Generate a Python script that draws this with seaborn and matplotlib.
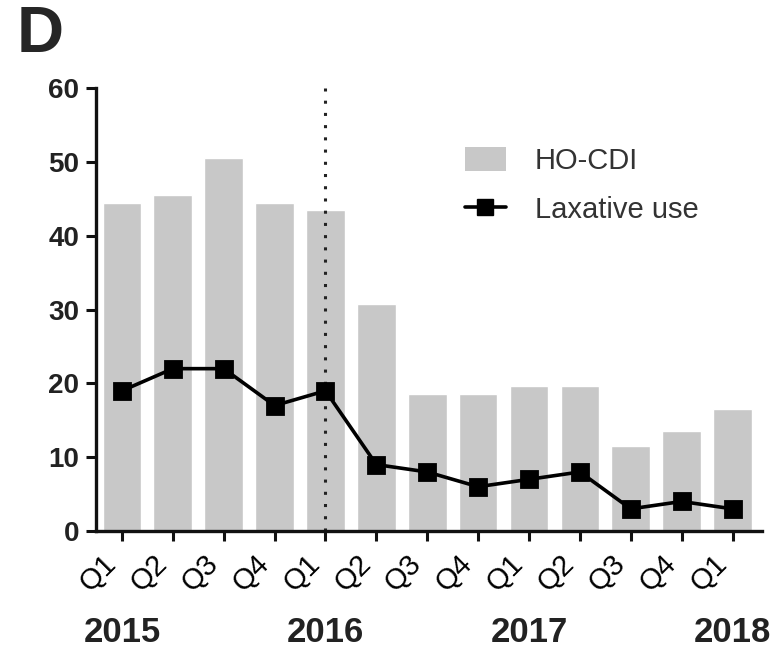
import matplotlib
matplotlib.use("Agg")
import matplotlib.pyplot as plt
from matplotlib.patches import Patch
from matplotlib.lines import Line2D
import pandas as pd
import seaborn as sns

# quarters Q1 2015 .. Q1 2018
quarters = ["Q1", "Q2", "Q3", "Q4", "Q1", "Q2", "Q3", "Q4", "Q1", "Q2", "Q3", "Q4", "Q1"]
ho_cdi = [44.4, 45.5, 50.5, 44.4, 43.5, 30.7, 18.6, 18.6, 19.6, 19.6, 11.5, 13.5, 16.5]
laxative = [19, 22, 22, 17, 19, 9, 8, 6, 7, 8, 3, 4, 3]
years = ["2015", "2016", "2017", "2018"]
year_pos = [0, 4, 8, 12]

df = pd.DataFrame({"idx": range(len(quarters)), "HO-CDI": ho_cdi, "Laxative use": laxative})

sns.set_theme(style="ticks")
plt.rcParams["font.family"] = ["Liberation Sans", "DejaVu Sans"]

fig = plt.figure(figsize=(7.83, 6.52), dpi=100)
ax = fig.add_axes([0.1226, 0.1856, 0.850, 0.679])

sns.barplot(data=df, x="idx", y="HO-CDI", color="#c8c8c8", saturation=1,
            width=0.76, ax=ax, zorder=1)
sns.pointplot(data=df, x="idx", y="Laxative use", color="black", markers="s",
              linestyles="-", ax=ax, zorder=3)
for ln in ax.lines:
    ln.set_linewidth(2.6)
    ln.set_markersize(11)

ax.axvline(4, ymin=0, ymax=1, color="#222222", linestyle=(0, (1, 3)), linewidth=2.2, zorder=2)

ax.set_xlim(-0.51, 12.57)
ax.set_ylim(0, 60)
ax.set_yticks(range(0, 61, 10))
ax.set_xticks(range(len(quarters)))
ax.set_xticklabels(quarters, rotation=45, ha="right", fontsize=21, color="black")
ax.set_xlabel("")
ax.set_ylabel("")
for lab in ax.get_yticklabels():
    lab.set_fontweight("bold")
    lab.set_fontsize(20)
    lab.set_color("#222222")

sns.despine(ax=ax)
for sp in ["left", "bottom"]:
    ax.spines[sp].set_linewidth(2.4)
    ax.spines[sp].set_color("#111111")
ax.tick_params(axis="both", width=2.2, length=7, color="#111111")
ax.tick_params(axis="x", pad=6)
ax.tick_params(axis="y", pad=5)

for yr, pos in zip(years, year_pos):
    ax.text(pos, -0.230, yr, transform=ax.get_xaxis_transform(), ha="center",
            va="center", fontsize=25, fontweight="bold", color="#222222")

handles = [Patch(facecolor="#c8c8c8", edgecolor="none", label="HO-CDI"),
           Line2D([0], [0], color="black", marker="s", markersize=11, linewidth=2.6,
                  label="Laxative use")]
ax.legend(handles=handles, loc="upper left", bbox_to_anchor=(465 / 783, 1 - 147 / 652),
          bbox_transform=fig.transFigure, frameon=False, borderpad=0, borderaxespad=0,
          fontsize=21, labelcolor="#333333", handlelength=1.4, handleheight=0.9,
          handletextpad=1.0, labelspacing=0.7)

fig.text(17 / 783, 1 - 5 / 652, "D", fontsize=47, fontweight="bold", va="top", ha="left")

fig.savefig("out.png", dpi=100)
